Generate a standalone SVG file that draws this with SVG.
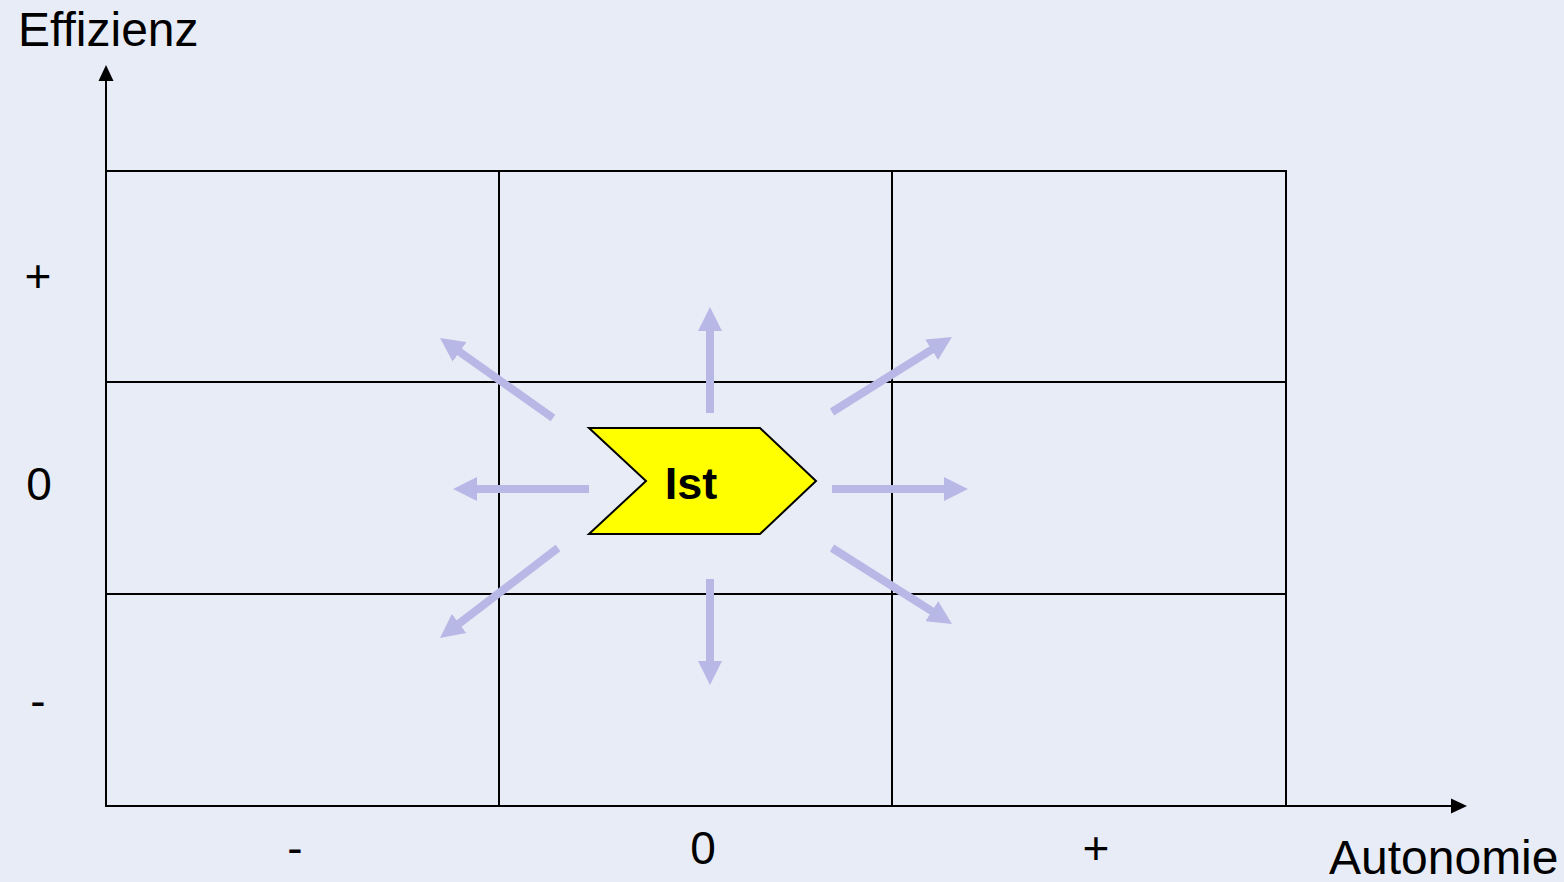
<svg xmlns="http://www.w3.org/2000/svg" width="1564" height="882" viewBox="0 0 1564 882">
<style>
text{font-family:"Liberation Sans",Arial,sans-serif;fill:#000}
.lbl{font-size:46px}
.ax{font-size:48px}
.grid{stroke:#000;stroke-width:2;fill:none}
.arr{stroke:#B8B8E6;stroke-width:8;fill:none;marker-end:url(#ah)}
</style>
<defs>
<marker id="ah" markerUnits="userSpaceOnUse" viewBox="0 0 24 24" markerWidth="24" markerHeight="24" refX="2" refY="12" orient="auto">
<path d="M0,0 L24,12 L0,24 z" fill="#B8B8E6"/>
</marker>
</defs>
<rect width="1564" height="882" fill="#E8ECF6"/>
<g id="grid">
<rect class="grid" x="106" y="171" width="1180" height="635"/>
<line class="grid" x1="499" y1="171" x2="499" y2="806"/>
<line class="grid" x1="892" y1="171" x2="892" y2="806"/>
<line class="grid" x1="106" y1="382" x2="1286" y2="382"/>
<line class="grid" x1="106" y1="594" x2="1286" y2="594"/>
</g>
<g id="axes">
<line class="grid" x1="106" y1="806" x2="106" y2="80"/>
<polygon points="106,65 98.5,81 113.5,81" fill="#000"/>
<line class="grid" x1="106" y1="806" x2="1452" y2="806"/>
<polygon points="1467,806 1451,798.5 1451,813.5" fill="#000"/>
</g>
<g id="labels">
<text class="ax" x="18" y="46">Effizienz</text>
<text class="ax" x="1329" y="874">Autonomie</text>
<text class="lbl" x="38" y="292" text-anchor="middle">+</text>
<text class="lbl" x="39" y="500" text-anchor="middle">0</text>
<text class="lbl" x="38" y="717" text-anchor="middle">-</text>
<text class="lbl" x="295" y="864" text-anchor="middle">-</text>
<text class="lbl" x="703" y="864" text-anchor="middle">0</text>
<text class="lbl" x="1096" y="864" text-anchor="middle">+</text>
</g>
<g id="connectors">
<line class="arr" x1="710" y1="413" x2="710" y2="329"/>
<line class="arr" x1="710" y1="579" x2="710" y2="663"/>
<line class="arr" x1="589" y1="489" x2="475" y2="489"/>
<line class="arr" x1="832" y1="489" x2="946" y2="489"/>
<line class="arr" x1="553" y1="418" x2="458" y2="350.7"/>
<line class="arr" x1="832" y1="412" x2="933.3" y2="348.7"/>
<line class="arr" x1="558" y1="548" x2="457.5" y2="624.7"/>
<line class="arr" x1="832" y1="548" x2="933.4" y2="612.2"/>
</g>
<g id="ist">
<polygon points="589,428 760,428 816,481 760,534 589,534 646,481" fill="#FFFF00" stroke="#000" stroke-width="2"/>
<text x="691" y="499" text-anchor="middle" font-size="45" font-weight="bold">Ist</text>
</g>
</svg>
